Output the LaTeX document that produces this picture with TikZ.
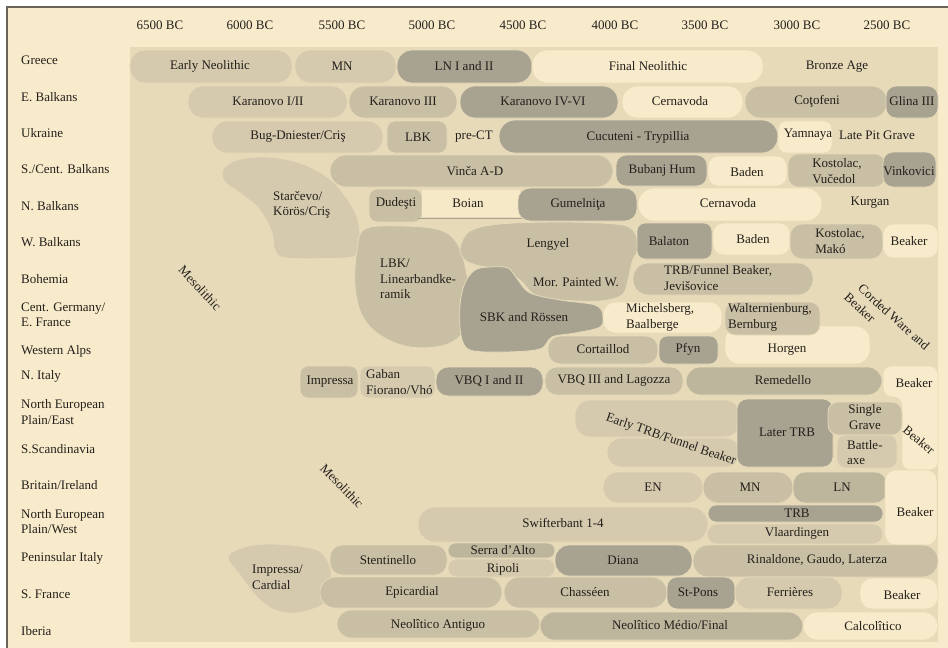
\documentclass[tikz,border=0pt]{standalone}
\usepackage{fontspec}
\setmainfont{Liberation Serif}
\definecolor{outerc}{HTML}{F8EBCB}
\definecolor{panelc}{HTML}{E6DAB9}
\definecolor{bordc}{HTML}{6A635A}
\definecolor{lite}{HTML}{F8EBCB}
\definecolor{pale}{HTML}{D5CAAE}
\definecolor{mid}{HTML}{C9BFA4}
\definecolor{midd}{HTML}{BEB59D}
\definecolor{dark}{HTML}{A8A291}
\definecolor{txt}{HTML}{231F1B}
\newcommand\blobrect[6]{\filldraw[blob, fill=#1, rounded corners=#6] (#2,#3) rectangle (#4,#5);}
\tikzset{
  blob/.style={draw=panelc, line width=0.8pt},
  lab/.style={font=\fontsize{13}{15.5}\selectfont, text=txt, inner sep=0pt, align=center},
  rowlab/.style={lab, anchor=west, align=left},
  leftlab/.style={lab, anchor=west, align=left}
}
\begin{document}
\begin{tikzpicture}[x=1pt,y=-1pt]
\useasboundingbox (0,0) rectangle (948,648);
\fill[white] (0,0) rectangle (948,648);
\fill[outerc] (7,7) rectangle (948,648);
\draw[line width=2pt, bordc] (7,648) -- (7,7) -- (948,7);
\fill[panelc] (130,47) rectangle (938,642);

% headers
\node[lab] (h1) at (160,25) {6500 BC};
\node[lab] (h2) at (250,25) {6000 BC};
\node[lab] (h3) at (342,25) {5500 BC};
\node[lab] (h4) at (432,25) {5000 BC};
\node[lab] (h5) at (523,25) {4500 BC};
\node[lab] (h6) at (615,25) {4000 BC};
\node[lab] (h7) at (705,25) {3500 BC};
\node[lab] (h8) at (797,25) {3000 BC};
\node[lab] (h9) at (887,25) {2500 BC};

% row labels
\node[rowlab] (r1) at (21,60) {Greece};
\node[rowlab] (r2) at (21,97) {E. Balkans};
\node[rowlab] (r3) at (21,133) {Ukraine};
\node[rowlab] (r4) at (21,169) {S./Cent. Balkans};
\node[rowlab] (r5) at (21,206) {N. Balkans};
\node[rowlab] (r6) at (21,242) {W. Balkans};
\node[rowlab] (r7) at (21,279) {Bohemia};
\node[rowlab] (r8) at (21,315) {Cent. Germany/\\E. France};
\node[rowlab] (r9) at (21,351) {Western Alps};
\node[rowlab] (r10) at (21,376) {N. Italy};
\node[rowlab] (r11) at (21,412) {North European\\Plain/East};
\node[rowlab] (r12) at (21,449) {S.Scandinavia};
\node[rowlab] (r13) at (21,485) {Britain/Ireland};
\node[rowlab] (r14) at (21,521.5) {North European\\Plain/West};
\node[rowlab] (r15) at (21,558) {Peninsular Italy};
\node[rowlab] (r16) at (21,594) {S. France};
\node[rowlab] (r17) at (21,631) {Iberia};

% Greece
\blobrect{pale}{130}{50}{292}{83}{15pt}
\blobrect{pale}{295}{50}{396}{83}{15pt}
\blobrect{dark}{397}{50}{532}{83}{15pt}
\blobrect{lite}{532}{50}{763}{83}{15pt}
\node[lab] (gEN) at (210,66) {Early Neolithic};
\node[lab] (gMN) at (342,66) {MN};
\node[lab] (gLN) at (464,66) {LN I and II};
\node[lab] (gFN) at (648,66) {Final Neolithic};
\node[lab] (gBA) at (837,67) {Bronze Age};

% E. Balkans
\blobrect{pale}{188}{86}{347}{118}{15pt}
\blobrect{mid}{349}{86}{457}{118}{15pt}
\blobrect{dark}{460}{86}{618}{118}{15pt}
\blobrect{lite}{622}{86}{743}{118}{15pt}
\blobrect{mid}{745}{86}{887}{118}{15pt}
\blobrect{dark}{886}{86}{938}{118}{10pt}
\node[lab] (eK1) at (268,101) {Karanovo I/II};
\node[lab] (eK3) at (403,101) {Karanovo III};
\node[lab] (eK4) at (543,101) {Karanovo IV-VI};
\node[lab] (eCe) at (680,101) {Cernavoda};
\node[lab] (eCo) at (817,101) {Coţofeni};
\node[lab] (eGl) at (912,101) {Glina III};

% Ukraine
\blobrect{pale}{212}{121}{383}{153}{15pt}
\blobrect{mid}{387}{121}{447}{153}{8pt}
\blobrect{dark}{499}{120}{778}{153}{16pt}
\blobrect{lite}{778}{121}{832}{153}{8pt}
\node[lab] (uBD) at (298,137) {Bug-Dniester/Criş};
\node[lab] (uLBK) at (418,137) {LBK};
\node[lab] (uPre) at (474,137) {pre-CT};
\node[lab] (uCT) at (638,137) {Cucuteni - Trypillia};
\node[lab] (uYa) at (808,135) {Yamnaya};
\node[lab] (uLP) at (877,135) {Late Pit Grave};

% Starcevo blob
\filldraw[blob, fill=pale] plot[smooth cycle, tension=0.6] coordinates
  {(223,170) (237,160) (267,157) (300,163) (327,177) (343,193) (357,217) (360,240) (357,254) (343,258) (287,258) (275,250) (272,233) (260,210) (240,193) (225,182)};
\node[leftlab] (sKC) at (273,205) {Starčevo/\\Körös/Criş};

% S./Cent. Balkans
\blobrect{mid}{330}{155}{613}{187}{16pt}
\blobrect{dark}{616}{155}{707}{186}{10pt}
\blobrect{lite}{708}{156}{787}{186}{10pt}
\blobrect{mid}{788}{154}{885}{187}{10pt}
\blobrect{dark}{883}{152}{936}{187}{10pt}
\node[lab] (sVi) at (475,171) {Vinča A-D};
\node[lab] (sBH) at (662,170) {Bubanj Hum};
\node[lab] (sBa) at (747,172) {Baden};
\node[lab, align=left] (sKV) at (837,171) {Kostolac,\\Vučedol};
\node[lab] (sVk) at (909,171) {Vinkovici};

% N. Balkans
\blobrect{mid}{369}{189}{422}{222}{8pt}
\fill[lite!85!panelc] (422,190) rectangle (520,217);
\draw[line width=1.2pt, dark] (418,218.5) -- (522,218.5);
\blobrect{dark}{518}{188}{637}{221}{12pt}
\blobrect{lite}{638}{188}{822}{221}{16pt}
\node[lab] (nDu) at (396,203) {Dudeşti};
\node[lab] (nBo) at (468,203) {Boian};
\node[lab] (nGu) at (578,204) {Gumelniţa};
\node[lab] (nCe) at (728,203) {Cernavoda};
\node[lab] (nKu) at (870,203) {Kurgan};

% LBK blob
\filldraw[blob, fill=mid] plot[smooth cycle, tension=0.6] coordinates
  {(365,229) (400,226) (440,230) (458,245) (467,275) (471,305) (465,330) (445,345) (410,347) (380,335) (362,315) (355,285) (357,250)};
\node[leftlab] (wLBK) at (380,279) {LBK/\\Linearbandke-\\ramik};

% Lengyel + Mor. Painted W.
\filldraw[blob, fill=mid] plot[smooth cycle, tension=0.55] coordinates
  {(460,248) (470,231) (500,224) (560,222) (615,224) (633,230) (638,248) (632,262) (628,280) (622,295) (600,301) (560,300) (535,295) (522,282) (505,270) (480,266) (465,260)};
\node[lab] (wLe) at (548,244) {Lengyel};

% SBK
\filldraw[blob, fill=dark] plot[smooth cycle, tension=0.55] coordinates
  {(475,270) (490,267) (508,268) (518,280) (530,293) (560,300) (595,305) (603,315) (600,327) (575,333) (552,337) (540,349) (505,352) (470,350) (461,335) (460,305) (465,283)};
\node[lab] (wMP) at (576,282) {Mor. Painted W.};
\node[lab] (cSBK) at (524,317) {SBK and Rössen};

% W. Balkans rest
\blobrect{dark}{637}{223}{712}{259}{8pt}
\blobrect{lite}{713}{223}{790}{255}{10pt}
\blobrect{mid}{790}{224}{883}{259}{12pt}
\blobrect{lite}{883}{224}{938}{258}{10pt}
\node[lab] (wBal) at (669,241) {Balaton};
\node[lab] (wBad) at (753,239) {Baden};
\node[lab, align=left] (wKM) at (840,241) {Kostolac,\\Makó};
\node[lab] (wBe) at (909,241) {Beaker};

% Bohemia
\blobrect{mid}{633}{263}{813}{295}{15pt}
\node[leftlab] (bTRB) at (664,278) {TRB/Funnel Beaker,\\Jevišovice};

% Cent. Germany
\blobrect{lite}{603}{302}{722}{333}{12pt}
\blobrect{lite}{725}{326}{870}{364}{14pt}
\blobrect{mid}{725}{302}{820}{335}{10pt}
\node[leftlab] (cMB) at (626,317.5) {Michelsberg,\\Baalberge};
\node[leftlab] (cWB) at (728,317.5) {Walternienburg,\\Bernburg};
\node[lab, rotate=-42] (cCW) at (894,317) {Corded Ware and};
\node[lab, rotate=-42] (cBe) at (860,308) {Beaker};

% Western Alps
\blobrect{mid}{548}{336}{658}{364}{12pt}
\blobrect{dark}{659}{336}{718}{364}{8pt}
\node[lab] (aCo) at (603,349) {Cortaillod};
\node[lab] (aPf) at (688,349) {Pfyn};
\node[lab] (aHo) at (787,350) {Horgen};

% N. Italy
\blobrect{mid}{300}{366}{358}{398}{8pt}
\blobrect{pale}{360}{366}{435}{398}{8pt}
\blobrect{dark}{436}{367}{543}{396}{12pt}
\blobrect{mid}{545}{367}{683}{395}{12pt}
\blobrect{midd}{686}{367}{882}{395}{14pt}
\filldraw[blob, fill=lite, rounded corners=8pt] (883,366) -- (938,366) -- (938,470) -- (902,470) -- (902,398) -- (883,396) -- cycle;
\node[lab] (iIm) at (330,382) {Impressa};
\node[leftlab] (iGF) at (366,382) {Gaban\\Fiorano/Vhó};
\node[lab] (iV1) at (489,381) {VBQ I and II};
\node[lab] (iV3) at (614,380) {VBQ III and Lagozza};
\node[lab] (iRe) at (783,380) {Remedello};
\node[lab] (iBe) at (914,383) {Beaker};

% N. Eur. Plain East / S. Scandinavia
\blobrect{pale}{575}{400}{740}{437}{15pt}
\blobrect{pale}{607}{438}{740}{467}{14pt}
\blobrect{dark}{737}{399}{833}{467}{10pt}
\blobrect{mid}{828}{402}{902}{435}{10pt}
\blobrect{pale}{837}{435}{897}{468}{8pt}
\node[lab, rotate=-19] (sET) at (671,440) {Early TRB/Funnel Beaker};
\node[lab] (sLT) at (787,432) {Later TRB};
\node[lab] (sSG) at (865,417) {Single\\Grave};
\node[leftlab] (sBA) at (847,452.5) {Battle-\\axe};
\node[lab, rotate=-40] (sBe) at (919,440) {Beaker};

% Britain
\blobrect{pale}{603}{472}{703}{503}{15pt}
\blobrect{mid}{703}{472}{793}{503}{15pt}
\blobrect{midd}{793}{472}{887}{503}{12pt}
\blobrect{lite}{885}{470}{937}{545}{10pt}
\node[lab] (bEN) at (653,487) {EN};
\node[lab] (bMN) at (750,487) {MN};
\node[lab] (bLN) at (842,487) {LN};
\node[lab] (bBe) at (915,512) {Beaker};

% N. Eur. Plain West
\blobrect{pale}{418}{507}{708}{542}{17pt}
\blobrect{dark}{708}{505}{883}{522}{8pt}
\blobrect{pale}{707}{524}{883}{544}{10pt}
\node[lab] (pSw) at (563,523) {Swifterbant 1-4};
\node[lab] (pTRB) at (797,513) {TRB};
\node[lab] (pVl) at (797,533) {Vlaardingen};

% Peninsular Italy
\filldraw[blob, fill=pale] plot[smooth cycle, tension=0.6] coordinates
  {(228,557) (245,547) (270,544) (305,547) (322,553) (331,570) (330,590) (322,605) (295,613) (275,610) (258,598) (240,575)};
\node[leftlab] (piIC) at (252,577.5) {Impressa/\\Cardial};
\blobrect{mid}{330}{545}{447}{575}{12pt}
\blobrect{midd}{448}{543}{555}{558}{7pt}
\blobrect{pale}{448}{559}{555}{577}{8pt}
\blobrect{dark}{555}{545}{692}{576}{14pt}
\blobrect{mid}{693}{545}{938}{577}{15pt}
\node[lab] (piSt) at (388,560) {Stentinello};
\node[lab] (piSA) at (503,550) {Serra d’Alto};
\node[lab] (piRi) at (503,569) {Ripoli};
\node[lab] (piDi) at (623,560) {Diana};
\node[lab] (piRG) at (817,560) {Rinaldone, Gaudo, Laterza};

% S. France
\blobrect{mid}{320}{577}{502}{608}{15pt}
\blobrect{mid}{504}{577}{667}{608}{15pt}
\blobrect{dark}{667}{577}{735}{609}{10pt}
\blobrect{pale}{735}{577}{842}{609}{14pt}
\blobrect{lite}{860}{578}{938}{609}{12pt}
\node[lab] (fEp) at (412,592) {Epicardial};
\node[lab] (fCh) at (585,592) {Chasséen};
\node[lab] (fSP) at (698,592) {St-Pons};
\node[lab] (fFe) at (790,592) {Ferrières};
\node[lab] (fBe) at (902,595) {Beaker};

% Iberia
\blobrect{mid}{337}{610}{540}{638}{14pt}
\blobrect{midd}{540}{612}{803}{640}{14pt}
\blobrect{lite}{803}{612}{938}{640}{14pt}
\node[lab] (ibNA) at (438,625) {Neolîtico Antiguo};
\node[lab] (ibNM) at (670,625) {Neolîtico Médio/Final};
\node[lab] (ibCa) at (873,626) {Calcolîtico};

% Mesolithic
\node[lab, rotate=-47] (me1) at (200,288) {Mesolithic};
\node[lab, rotate=-46] (me2) at (342,486) {Mesolithic};
\end{tikzpicture}
\end{document}
